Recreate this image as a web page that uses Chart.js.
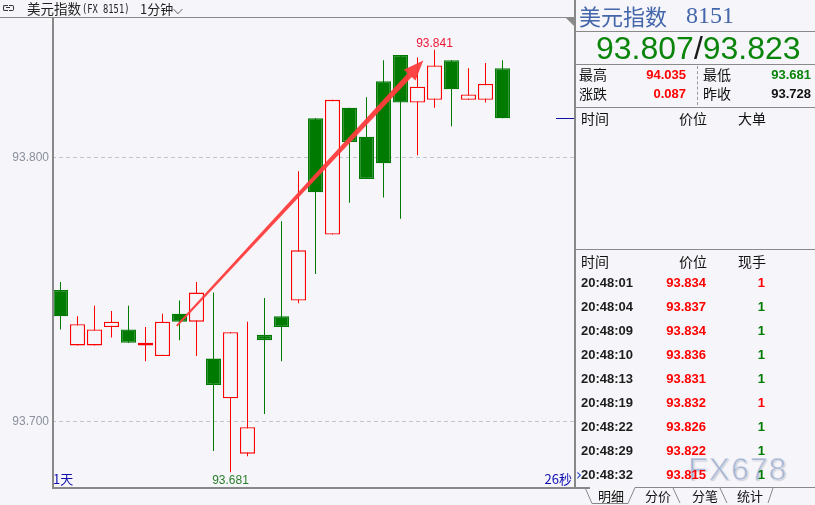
<!DOCTYPE html>
<html>
<head>
<meta charset="utf-8">
<script src="https://cdn.jsdelivr.net/npm/chart.js@4.4.1/dist/chart.umd.min.js"></script>
<style>
html, body { margin: 0; padding: 0; }
body { width: 815px; height: 505px; overflow: hidden; background: #f5f5fa; position: relative;
       font-family: "Noto Sans CJK SC", "Liberation Sans", sans-serif; color: #111; }
.a { position: absolute; white-space: nowrap; }
.hl { position: absolute; height: 1px; background: #8a8a8a; }
.vl { position: absolute; width: 1px; background: #8a8a8a; }
#wrap { position: absolute; left: 0; top: 0; width: 575px; height: 505px; }
</style>
</head>
<body>

<div id="wrap"><canvas id="grafica"></canvas></div>

<!-- cabecera de la gráfica -->
<div class="a" style="left:3px;top:5px;width:4px;height:4px;border:1px solid #333;border-right:none;border-radius:2px 0 0 2px;"></div>
<div class="a" style="left:9px;top:5px;width:4px;height:4px;border:1px solid #333;border-left:none;border-radius:0 2px 2px 0;"></div>
<div class="a" style="left:6px;top:7px;width:4px;height:1px;background:#333;"></div>
<div class="a" id="titulo" style="left:27px;top:0;line-height:17px;font-size:13.5px;color:#222;"></div>
<div class="a" id="titMono" style="left:82px;top:0;line-height:17px;font-size:12.5px;font-family:'DejaVu Sans Mono',monospace;color:#222;transform:scaleX(0.7);transform-origin:left;"></div>
<div class="a" id="periodo" style="left:140px;top:0;line-height:17px;font-size:13px;color:#222;"></div>
<div class="hl" style="left:0;top:17px;width:575px;"></div>
<div class="vl" style="left:52px;top:17px;height:471px;width:1.5px;background:#888;"></div>
<div class="hl" style="left:52px;top:487px;width:538px;height:1.5px;background:#888;"></div>
<div class="a" style="left:566px;top:18px;width:0;height:0;border-top:9px solid #8a8a8a;border-left:9px solid transparent;"></div>
<div class="a" id="lblDia" style="left:53px;top:471px;line-height:16px;font-size:13px;color:#1010b0;"></div>
<div class="a" id="lblSeg" style="right:243px;top:471px;line-height:16px;font-size:13px;color:#1010b0;"></div>

<!-- panel derecho -->
<div class="vl" style="left:574px;top:0;height:488px;width:2px;background:#888;"></div>
<div class="a" id="pnlNombre" style="left:579px;top:1px;line-height:28px;font-size:22px;color:#4466aa;"></div>
<div class="a" id="pnlCodigo" style="left:686px;top:1px;line-height:28px;font-size:24px;font-family:'Liberation Serif',serif;color:#4466aa;"></div>
<div class="hl" style="left:576px;top:31px;width:239px;"></div>
<div class="a" id="pnlPrecio" style="left:596px;top:29px;line-height:38px;font-size:32px;font-family:'Liberation Sans',Arial,sans-serif;color:#0a840a;"></div>
<div class="hl" style="left:576px;top:64px;width:239px;"></div>
<div class="a" style="left:697px;top:66px;height:39px;border-left:1px dashed #999;"></div>
<div class="hl" style="left:576px;top:107px;width:239px;"></div>
<div class="hl" style="left:576px;top:249px;width:239px;"></div>
<div class="a" style="left:576px;top:466px;line-height:18px;font-size:15px;color:#2040c0;font-family:'DejaVu Sans',sans-serif;">›</div>
<div class="a" style="left:688px;top:450px;line-height:38px;font-size:32px;font-family:'Liberation Sans',Arial,sans-serif;color:rgba(150,170,208,0.7);letter-spacing:1px;-webkit-text-stroke:0.6px rgba(255,255,255,0.7);text-shadow:1px 1px 1px rgba(120,120,140,0.35);">FX678</div>

<svg class="a" style="left:0;top:0;" width="815" height="505">
  <g stroke="#888" stroke-width="1" fill="none">
    <polyline points="585,487.5 592,503.5 628,503.5 635,487.5 815,487.5"/>
    <line x1="673" y1="488" x2="680" y2="503"/>
    <line x1="720" y1="488" x2="727" y2="503"/>
    <line x1="768" y1="503" x2="773" y2="488"/>
  </g>
</svg>

<script>
// Datos de las velas de 1 minuto (apertura, cierre, máximo, mínimo)
var openVals  = [93.750, 93.729, 93.729, 93.736, 93.735, 93.729, 93.725, 93.741, 93.738,
    93.724, 93.709, 93.688, 93.733, 93.740, 93.746, 93.815, 93.771, 93.819, 93.808,
    93.829, 93.839, 93.821, 93.822, 93.837, 93.822, 93.822, 93.834];
var closeVals = [93.740, 93.737, 93.735, 93.738, 93.730, 93.730, 93.738, 93.738, 93.749,
    93.714, 93.734, 93.698, 93.731, 93.736, 93.765, 93.787, 93.822, 93.806, 93.792,
    93.798, 93.821, 93.827, 93.835, 93.826, 93.824, 93.828, 93.815];
var highVals  = [93.753, 93.740, 93.744, 93.742, 93.744, 93.736, 93.741, 93.746, 93.753,
    93.749, 93.734, 93.738, 93.747, 93.776, 93.795, 93.815, 93.822, 93.819, 93.823,
    93.837, 93.839, 93.838, 93.841, 93.837, 93.834, 93.836, 93.837];
var lowVals   = [93.735, 93.729, 93.729, 93.732, 93.730, 93.723, 93.725, 93.731, 93.725,
    93.689, 93.681, 93.687, 93.703, 93.723, 93.745, 93.756, 93.771, 93.783, 93.792,
    93.785, 93.777, 93.801, 93.819, 93.812, 93.822, 93.821, 93.815];
var yTicks = [93.700, 93.800];

// Flecha de tendencia (índice de vela, precio)
var arrowFrom = [6.84, 93.7364];
var arrowTo = [21.34, 93.8369];

// Textos de la cabecera
var tituloCn = '美元指数';
var tituloCodigo = '(FX 8151)';
var periodo = '1分钟⌵';
var lblDia = '1天';
var lblSeg = '26秒';

// Panel de cotización
var nombre = '美元指数';
var codigo = '8151';
var precioCompra = '93.807';
var precioVenta = '93.823';
var statLabels = ['最高', '涨跌', '最低', '昨收'];
var statValues = ['94.035', '0.087', '93.681', '93.728'];
var statColors = ['#ff0000', '#ff0000', '#0a840a', '#111111'];
var cab1 = ['时间', '价位', '大单'];
var cab2 = ['时间', '价位', '现手'];
var tradeTimes = ['20:48:01', '20:48:04', '20:48:09', '20:48:10', '20:48:13',
    '20:48:19', '20:48:22', '20:48:29', '20:48:32'];
var tradePrices = ['93.834', '93.837', '93.834', '93.836', '93.831',
    '93.832', '93.826', '93.822', '93.815'];
var tradeVols = ['1', '1', '1', '1', '1', '1', '1', '1', '1'];
var tradeVolUp = [true, false, false, false, false, true, false, false, false];
var tabs = ['明细', '分价', '分笔', '统计'];

var red = '#ff0000';
var green = '#007a00';
var fondo = '#f5f5fa';

function div(html, style) {
    var d = document.createElement('div');
    d.className = 'a';
    d.style.cssText = style;
    d.innerHTML = html;
    document.body.appendChild(d);
    return d;
}

// Textos HTML
document.getElementById('titulo').textContent = tituloCn;
document.getElementById('titMono').textContent = tituloCodigo;
document.getElementById('periodo').textContent = periodo;
document.getElementById('lblDia').textContent = lblDia;
document.getElementById('lblSeg').textContent = lblSeg;
document.getElementById('pnlNombre').textContent = nombre;
document.getElementById('pnlCodigo').textContent = codigo;
document.getElementById('pnlPrecio').innerHTML = precioCompra +
    '<span style="color:#1a1a1a">/</span>' + precioVenta;

// Máximo, mínimo, etc.
for (var i = 0; i < statLabels.length; i++) {
    var posY = (i % 2 === 0 ? 65 : 84);
    var posX = (i < 2 ? 579 : 703);
    var posR = (i < 2 ? 129 : 4);
    div(statLabels[i], 'left:' + posX + 'px;top:' + posY + 'px;line-height:19px;font-size:14px;');
    div(statValues[i], 'right:' + posR + 'px;top:' + posY + 'px;line-height:19px;color:' +
        statColors[i] + ';font-family:Liberation Sans,Arial;font-weight:bold;font-size:13px;');
}

var colsCab = [581, 679, 738];
for (var i = 0; i < 3; i++) {
    div(cab1[i], 'left:' + colsCab[i] + 'px;top:109px;line-height:18px;font-size:14px;');
    div(cab2[i], 'left:' + colsCab[i] + 'px;top:252px;line-height:18px;font-size:14px;');
}

// Lista de operaciones
for (var i = 0; i < tradeTimes.length; i++) {
    var filaY = 274 + i * 24;
    var st = 'top:' + filaY + 'px;line-height:18px;font-family:Liberation Sans,Arial;font-weight:bold;font-size:13px;';
    div(tradeTimes[i], 'left:581px;color:#1c1c1c;' + st);
    div(tradePrices[i], 'right:109px;color:' + red + ';' + st);
    div(tradeVols[i], 'right:50px;color:' + (tradeVolUp[i] ? red : green) + ';' + st);
}

var tabsX = [598, 645, 692, 737];
for (var i = 0; i < tabs.length; i++) {
    div(tabs[i], 'left:' + tabsX[i] + 'px;top:487px;line-height:18px;font-size:13px;');
}

// Anotaciones: flecha, máximo/mínimo y precio actual
var anotaciones = {
    id: 'anotaciones',
    afterDatasetsDraw: function (chart) {
        var ctx = chart.ctx;
        var xs = chart.scales.x;
        var ys = chart.scales.y;
        var area = chart.chartArea;

        // flecha
        var x1 = xs.getPixelForValue(arrowFrom[0]), y1 = ys.getPixelForValue(arrowFrom[1]);
        var x2 = xs.getPixelForValue(arrowTo[0]), y2 = ys.getPixelForValue(arrowTo[1]);
        var ang = Math.atan2(y2 - y1, x2 - x1);
        var headLen = 20, headW = 8;
        var bx = x2 - headLen * Math.cos(ang), by = y2 - headLen * Math.sin(ang);
        var sn = Math.sin(ang), cs = Math.cos(ang);
        ctx.save();
        ctx.fillStyle = 'rgba(255,60,60,0.95)';
        ctx.beginPath();
        ctx.moveTo(x1 + 1 * sn, y1 - 1 * cs);
        ctx.lineTo(bx + 2.8 * sn, by - 2.8 * cs);
        ctx.lineTo(bx + headW * sn, by - headW * cs);
        ctx.lineTo(x2, y2);
        ctx.lineTo(bx - headW * sn, by + headW * cs);
        ctx.lineTo(bx - 2.8 * sn, by + 2.8 * cs);
        ctx.lineTo(x1 - 1 * sn, y1 + 1 * cs);
        ctx.closePath();
        ctx.fill();

        // etiquetas de máximo y mínimo
        var maxV = Math.max.apply(null, highVals);
        var minV = Math.min.apply(null, lowVals);
        var iMax = highVals.indexOf(maxV);
        var iMin = lowVals.indexOf(minV);
        ctx.font = '12px "Liberation Sans", Arial, sans-serif';
        ctx.textAlign = 'center';
        ctx.textBaseline = 'alphabetic';
        ctx.fillStyle = '#ee1836';
        ctx.fillText(maxV.toFixed(3), xs.getPixelForValue(iMax), ys.getPixelForValue(maxV) - 3);
        ctx.textBaseline = 'top';
        ctx.fillStyle = '#2a7f2a';
        ctx.fillText(minV.toFixed(3), xs.getPixelForValue(iMin), ys.getPixelForValue(minV) + 3);

        // marca del último precio
        var yl = Math.round(ys.getPixelForValue(closeVals[closeVals.length - 1])) + 0.5;
        ctx.strokeStyle = '#1010a0';
        ctx.lineWidth = 1;
        ctx.beginPath();
        ctx.moveTo(area.right - 19, yl);
        ctx.lineTo(area.right, yl);
        ctx.stroke();
        ctx.restore();
    }
};

var wicks = [], bodies = [], wickColors = [], bodyFill = [], bodyBorder = [];
for (var i = 0; i < openVals.length; i++) {
    var sube = closeVals[i] >= openVals[i];
    wicks.push({ x: i, y: [lowVals[i], highVals[i]] });
    bodies.push({ x: i, y: [openVals[i], closeVals[i]] });
    wickColors.push(sube ? red : green);
    bodyFill.push(sube ? fondo : green);
    bodyBorder.push(sube ? red : green);
}

var chart = new Chart(document.getElementById('grafica').getContext('2d'), {
    type: 'bar',
    data: {
        datasets: [{
            label: 'cuerpo',
            data: bodies,
            backgroundColor: bodyFill,
            borderColor: bodyBorder,
            borderWidth: 1.3,
            borderSkipped: false,
            barThickness: 15,
            grouped: false,
            inflateAmount: 0,
            order: 1
        }, {
            label: 'mecha',
            data: wicks,
            backgroundColor: wickColors,
            borderWidth: 0,
            barThickness: 1,
            grouped: false,
            inflateAmount: 0,
            order: 2
        }]
    },
    options: {
        responsive: true,
        maintainAspectRatio: false,
        animation: false,
        events: [],
        layout: { padding: { top: 18, bottom: 17, left: 0, right: 0 } },
        plugins: { legend: { display: false }, tooltip: { enabled: false } },
        scales: {
            x: {
                type: 'linear',
                min: -0.5,
                max: 30.265,
                offset: false,
                display: false
            },
            y: {
                min: 93.675,
                max: 93.853,
                afterFit: function (s) { s.width = 52; },
                afterBuildTicks: function (s) {
                    s.ticks = yTicks.map(function (v) { return { value: v }; });
                },
                grid: { color: '#c4c4cc', drawTicks: false, lineWidth: 1 },
                border: { display: false, dash: [4, 3] },
                ticks: {
                    color: '#8a909c',
                    padding: 3,
                    font: { size: 12, family: '"Liberation Sans", Arial, sans-serif' },
                    callback: function (v) { return Number(v).toFixed(3); }
                }
            }
        }
    },
    plugins: [anotaciones]
});
</script>
</body>
</html>
